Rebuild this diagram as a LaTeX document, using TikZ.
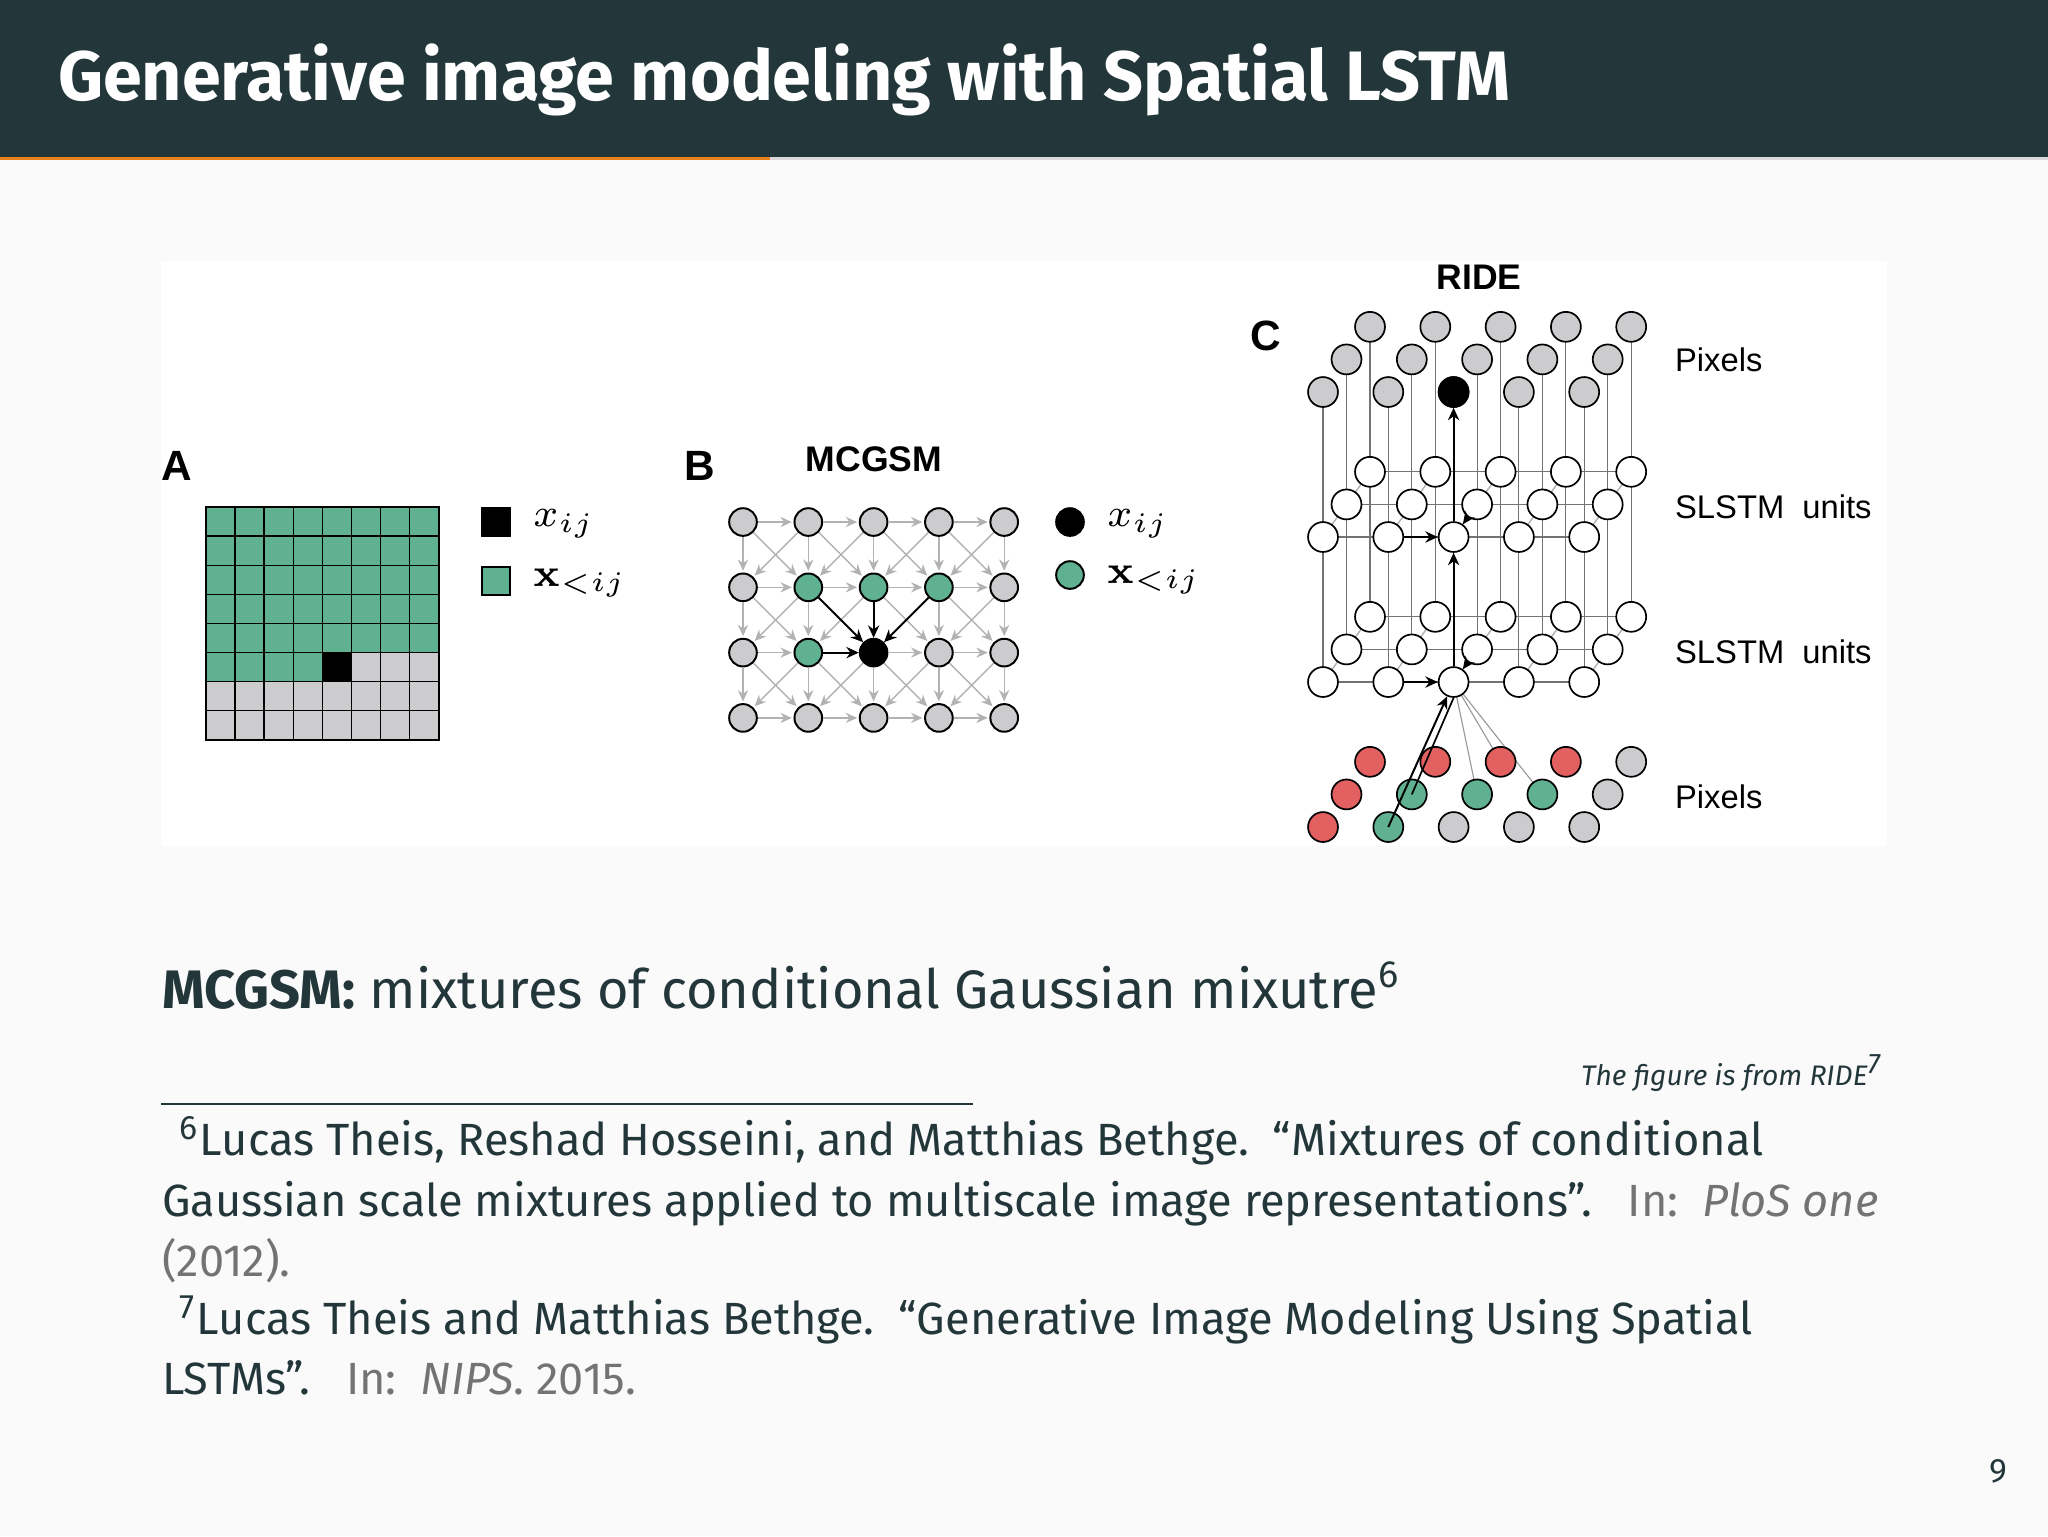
\documentclass[tikz,border=0pt]{standalone}
\usepackage[no-math]{fontspec}
\setmainfont{Fira Sans}
\newfontfamily\hel{Liberation Sans}
\usetikzlibrary{arrows.meta}
\definecolor{bar}{RGB}{35,55,59}
\definecolor{org}{RGB}{235,129,27}
\definecolor{teal}{RGB}{96,176,146}
\definecolor{gr}{RGB}{204,204,206}
\definecolor{rd}{RGB}{226,96,96}
\definecolor{txt}{RGB}{35,55,59}
\tikzset{
 pb/.style={circle,draw=black,line width=0.35pt,minimum size=4.9pt,inner sep=0pt},
 pc/.style={circle,draw=black,line width=0.3pt,minimum size=5.3pt,inner sep=0pt},
 garr/.style={draw=black!30,line width=0.25pt,-{Stealth[length=2pt,width=1.8pt]},shorten >=0.3pt},
 barr/.style={draw=black,line width=0.35pt,-{Stealth[length=2.2pt,width=2pt]}},
 thin/.style={draw=black!55,line width=0.2pt},
 lab/.style={font=\hel\fontsize{5.8}{7}\selectfont,anchor=west,inner sep=0pt},
 mlab/.style={anchor=west,inner sep=0pt,font=\fontsize{7.5}{9}\selectfont},
 plet/.style={font=\hel\bfseries\fontsize{7.5}{9}\selectfont,inner sep=0pt},
 ptit/.style={font=\hel\bfseries\fontsize{6.3}{8}\selectfont,inner sep=0pt},
}
\begin{document}
\begin{tikzpicture}[x=0.17717pt,y=-0.17717pt]
\useasboundingbox (0,0) rectangle (2048,1536);
\fill[black!2] (0,0) rectangle (2048,1536);
\fill[bar] (0,0) rectangle (2048,157);
\fill[black!15] (0,157) rectangle (2048,160);
\fill[org] (0,157) rectangle (770,160);
\node[anchor=west,text=white,font=\fontsize{12.4}{15}\selectfont\bfseries,inner sep=0pt] (title) at (57,80) {Generative image modeling with Spatial LSTM};
\fill[white] (161,261) rectangle (1887,846);
% Panel A
\node[plet] (lA) at (177,466) {A};
\foreach \r in {0,...,7}{\foreach \c in {0,...,7}{
 \ifnum\r<5 \def\col{teal}\else\ifnum\r=5 \ifnum\c<4 \def\col{teal}\else\ifnum\c=4 \def\col{black}\else\def\col{gr}\fi\fi\else\def\col{gr}\fi\fi
 \filldraw[fill=\col,draw=black,line width=0.25pt] (206+\c*29.1,507+\r*29.1) rectangle ++(29.1,29.1);
}}
\draw[line width=0.4pt] (206,507) rectangle (439,740);
\filldraw[fill=black,draw=black,line width=0.3pt] (482,508) rectangle (510,536);
\filldraw[fill=teal,draw=black,line width=0.3pt] (482,567) rectangle (510,595);
\node[mlab] (la1) at (532,524) {$x_{ij}$};
\node[mlab] (la2) at (532,583) {$\mathbf{x}_{<ij}$};
% Panel B
\node[plet] (lB) at (700,466) {B};
\node[ptit] (tB) at (874,459) {MCGSM};
\foreach \c in {0,...,4}{\foreach \r in {0,...,3}{
 \def\col{gr}
 \ifnum\r=1 \ifnum\c>0 \ifnum\c<4 \def\col{teal}\fi\fi\fi
 \ifnum\r=2 \ifnum\c=1 \def\col{teal}\fi\ifnum\c=2 \def\col{black}\fi\fi
 \node[pb,fill=\col] (b\c\r) at (743+\c*65.3,522+\r*65.3) {};
}}
\foreach \c in {0,...,4}{\foreach \r in {0,...,3}{
 \pgfmathtruncatemacro\cn{\c+1}\pgfmathtruncatemacro\cp{\c-1}\pgfmathtruncatemacro\rn{\r+1}
 \ifnum\c<4 \ifnum\r=2 \ifnum\c=1 \else\draw[garr] (b\c\r)--(b\cn\r);\fi\else\draw[garr] (b\c\r)--(b\cn\r);\fi\fi
 \ifnum\r<3
  \ifnum\r=1 \ifnum\c=2 \else\draw[garr] (b\c\r)--(b\c\rn);\fi\else\draw[garr] (b\c\r)--(b\c\rn);\fi
  \ifnum\c<4 \ifnum\r=1 \ifnum\c=1 \else\draw[garr] (b\c\r)--(b\cn\rn);\fi\else\draw[garr] (b\c\r)--(b\cn\rn);\fi\fi
  \ifnum\c>0 \ifnum\r=1 \ifnum\c=3 \else\draw[garr] (b\c\r)--(b\cp\rn);\fi\else\draw[garr] (b\c\r)--(b\cp\rn);\fi\fi
 \fi
}}
\draw[barr] (b11)--(b22); \draw[barr] (b21)--(b22); \draw[barr] (b31)--(b22); \draw[barr] (b12)--(b22);
\node[pb,fill=black] (lgb1) at (1070,522) {};
\node[pb,fill=teal] (lgb2) at (1070,575) {};
\node[mlab] (lb1) at (1106,524) {$x_{ij}$};
\node[mlab] (lb2) at (1106,580) {$\mathbf{x}_{<ij}$};
% Panel C
\node[plet] (lC) at (1266,336) {C};
\node[ptit] (tC) at (1479,277) {RIDE};
\foreach \L/\y in {t/392,u/537,v/682,p/827}{
 \foreach \d in {0,1,2}{\foreach \c in {0,...,4}{
  \coordinate (\L\d\c) at (1323+\c*65.3+\d*23.5,\y-\d*32.6);
 }}}
\foreach \d in {0,1,2}{\foreach \c in {0,...,4}{\draw[thin] (t\d\c)--(v\d\c);}}
\foreach \L in {u,v}{
 \foreach \d in {0,1,2}{\draw[thin] (\L\d0)--(\L\d4);}
 \foreach \c in {0,...,4}{\draw[draw=black!30,line width=0.25pt] (\L0\c)--(\L2\c);}
}
\draw[draw=black!40,line width=0.2pt] (v02)--(p12); \draw[draw=black!40,line width=0.2pt] (v02)--(p13); \draw[draw=black!40,line width=0.2pt] (v02)--(p22);
\foreach \L/\f in {t/gr,u/white,v/white}{
 \foreach \d in {2,1,0}{\foreach \c in {0,...,4}{
  \node[pc,fill=\f] (n\L\d\c) at (\L\d\c) {};
 }}}
\node[pc,fill=black] (top) at (t02) {};
\foreach \d/\c/\f in {2/0/rd,2/1/rd,2/2/rd,2/3/rd,2/4/gr,1/0/rd,1/1/teal,1/2/teal,1/3/teal,1/4/gr,0/0/rd,0/1/teal,0/2/gr,0/3/gr,0/4/gr}{
 \node[pc,fill=\f] (np\d\c) at (p\d\c) {};
}
\foreach \L in {u,v}{
 \draw[barr] (n\L01)--(n\L02);
 \draw[barr] (n\L12)--(n\L02);
}
\draw[barr] (nv02)--(nu02);
\draw[barr] (nu02)--(top);
\draw[barr] (np01.center)--(nv02);
\draw[draw=black,line width=0.3pt] (np11.center)--(nv02.south);
\node[lab] (c1) at (1674,360) {Pixels};
\node[lab] (c2) at (1674,507) {SLSTM\ \ units};
\node[lab] (c3) at (1674,652) {SLSTM\ \ units};
\node[lab] (c4) at (1674,797) {Pixels};
% text
\node[anchor=base west,inner sep=0pt,text=txt,font=\fontsize{9.6}{11}\selectfont] (body) at (161,1008) {\textbf{MCGSM:} mixtures of conditional Gaussian mixutre\textsuperscript{6}};
\node[anchor=base east,inner sep=0pt,text=txt,font=\fontsize{5}{6}\selectfont\itshape] (fig) at (1884,1085) {The figure is from RIDE\textsuperscript{7}};
\draw[txt,line width=0.3pt] (161,1104)--(973,1104);
\begin{scope}[every node/.style={anchor=base west,inner sep=0pt,text=txt,font=\fontsize{8}{9}\selectfont}]
\node (f1) at (161,1155) {\kern3pt\textsuperscript{6}Lucas Theis, Reshad Hosseini, and Matthias Bethge.\ \ “Mixtures of conditional};
\node (f2) at (161,1216) {Gaussian scale mixtures applied to multiscale image representations”.\ \ \ \textcolor{black!55}{In:\ \ \textit{PloS one}}};
\node (f3) at (161,1276) {\textcolor{black!55}{(2012).}};
\node (f4) at (161,1334) {\kern3pt\textsuperscript{7}Lucas Theis and Matthias Bethge.\ \ “Generative Image Modeling Using Spatial};
\node (f5) at (161,1394) {LSTMs”.\ \ \ \textcolor{black!55}{In:\ \ \textit{NIPS}. 2015.}};
\node (pg) at (1988,1482) {\fontsize{6}{7}\selectfont 9};
\end{scope}
\end{tikzpicture}
\end{document}
